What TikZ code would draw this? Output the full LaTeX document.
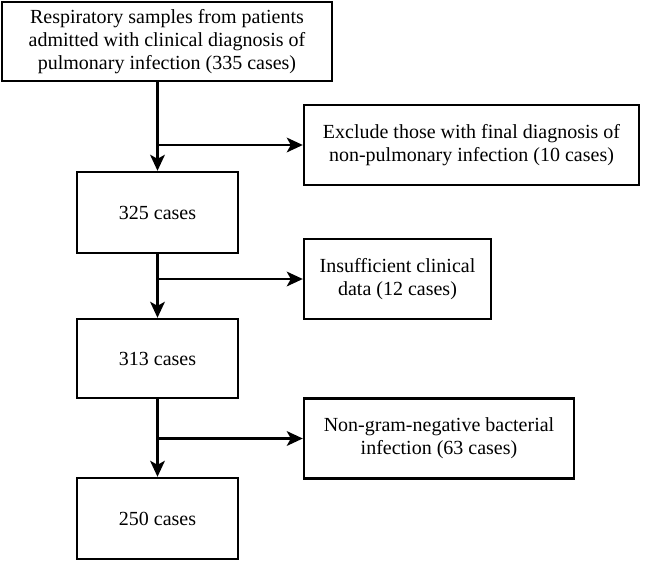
\documentclass[tikz,border=0pt]{standalone}
\usepackage{fontspec}
\setmainfont{Liberation Serif}
\newfontfamily\tnr{Liberation Serif}
\usetikzlibrary{arrows.meta}
\begin{document}
\begin{tikzpicture}[x=0.75pt,y=-0.75pt,
  box/.style={draw=black,line width=1.8pt,fill=white,align=center,inner sep=0pt,
    font=\tnr\fontsize{15}{17.4}\selectfont},
  conn/.style={line width=1.8pt,-{Stealth[length=12pt,width=11pt,inset=3pt]}}]
\useasboundingbox (0,0) rectangle (645,565);
\node[box,minimum width=330*0.75pt,minimum height=79*0.75pt] (b1) at (167,41.5)
  {Respiratory samples from patients\\admitted with clinical diagnosis of\\pulmonary infection (335 cases)};
\node[box,minimum width=335*0.75pt,minimum height=80*0.75pt] (ex) at (471.5,145)
  {Exclude those with final diagnosis of\\non-pulmonary infection (10 cases)};
\node[box,minimum width=161*0.75pt,minimum height=81*0.75pt] (b2) at (157.5,212.5) {325 cases};
\node[box,minimum width=187*0.75pt,minimum height=80*0.75pt] (in) at (397.5,279)
  {Insufficient clinical\\data (12 cases)};
\node[box,minimum width=161*0.75pt,minimum height=79*0.75pt] (b3) at (157.5,358.5) {313 cases};
\node[box,minimum width=270*0.75pt,minimum height=80*0.75pt] (ng) at (439,438.5)
  {Non-gram-negative bacterial\\infection (63 cases)};
\node[box,minimum width=161*0.75pt,minimum height=81*0.75pt] (b4) at (157.5,518.5) {250 cases};
\coordinate (s1) at (b1.south -| b2.north);
\coordinate (j1) at (b2.north |- ex.west);
\coordinate (j2) at (b3.north |- in.west);
\coordinate (j3) at (b4.north |- ng.west);
\draw[conn] (s1) -- (b2.north);
\draw[conn] (j1) -- (ex.west);
\draw[conn] (b2.south) -- (b3.north);
\draw[conn] (j2) -- (in.west);
\draw[conn] (b3.south) -- (b4.north);
\draw[conn] (j3) -- (ng.west);
\end{tikzpicture}
\end{document}
